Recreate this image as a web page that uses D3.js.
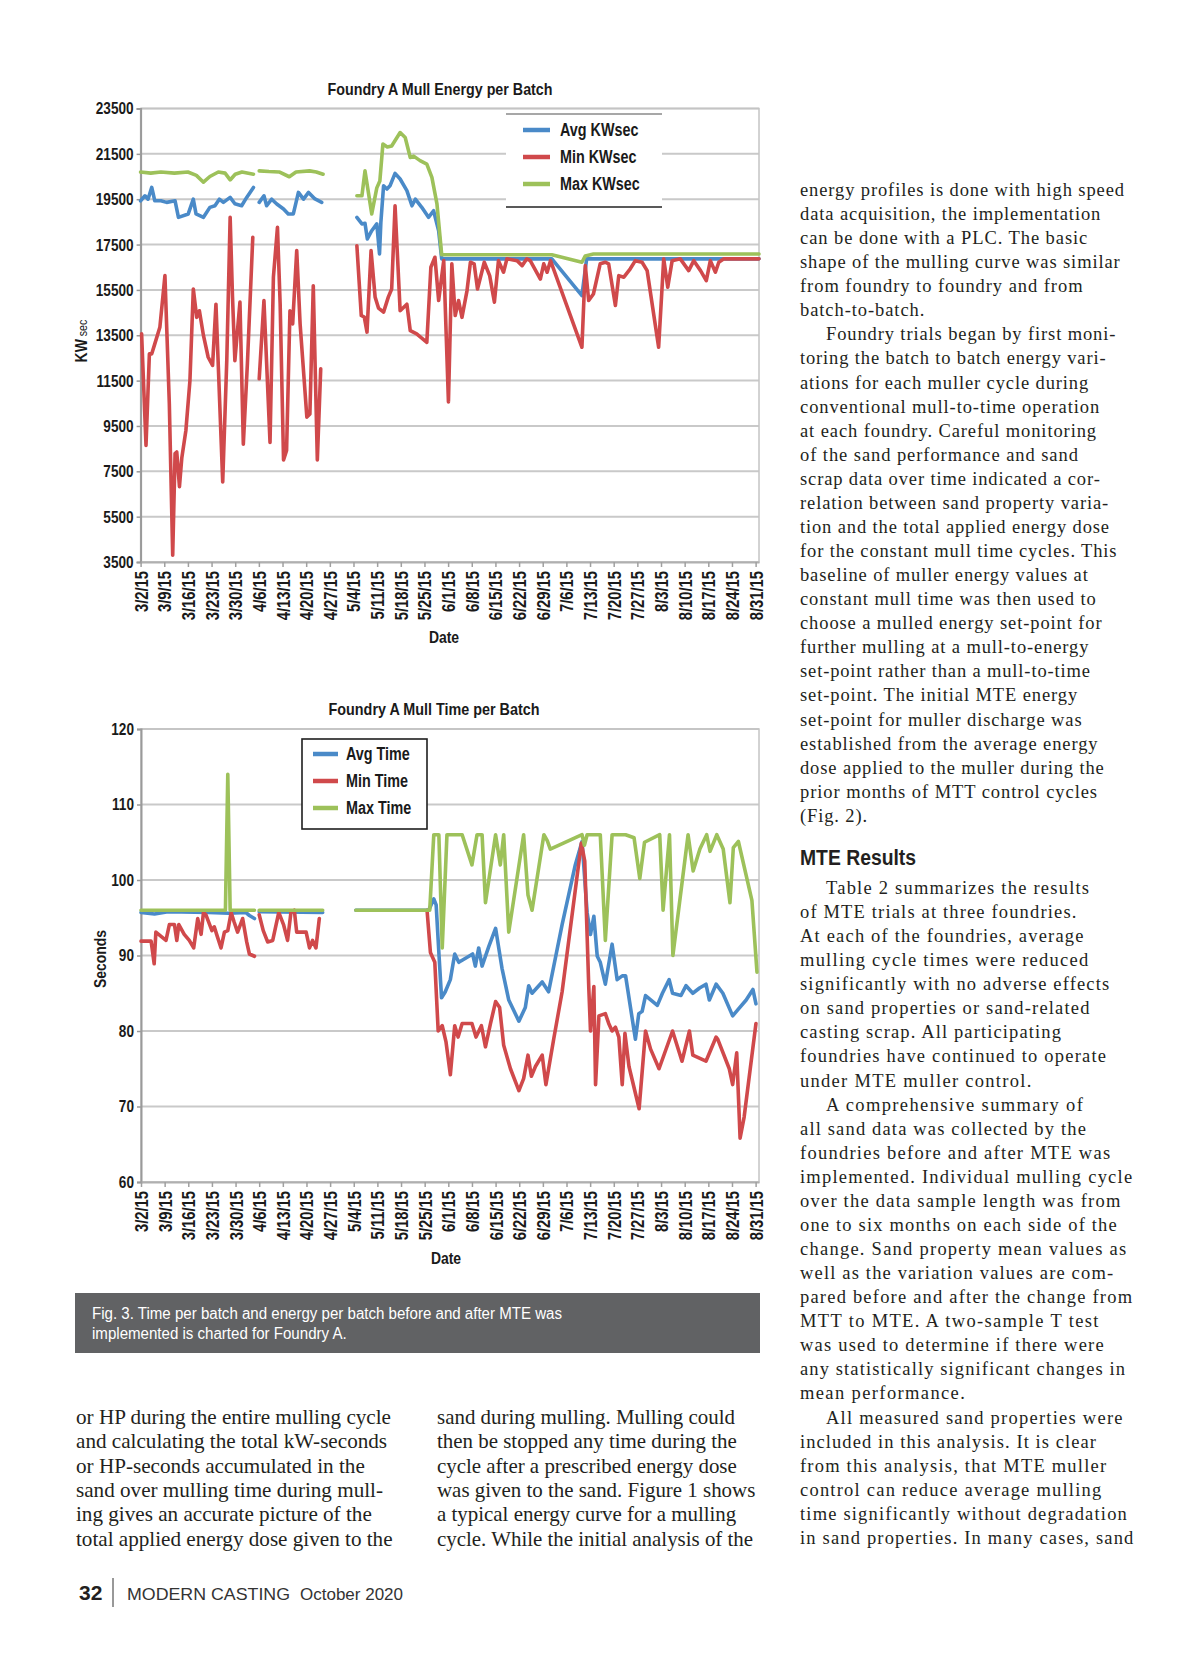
<!DOCTYPE html>
<html>
<head>
<meta charset="utf-8">
<script src="https://cdn.jsdelivr.net/npm/d3@7"></script>
<style>
  body { margin: 0; background: #fff; }
  svg { display: block; }
</style>
</head>
<body>
<div id="app"></div>
<script>
// ---- data ----
const dateLabels = ["3/2/15","3/9/15","3/16/15","3/23/15","3/30/15","4/6/15","4/13/15","4/20/15","4/27/15",
  "5/4/15","5/11/15","5/18/15","5/25/15","6/1/15","6/8/15","6/15/15","6/22/15","6/29/15","7/6/15",
  "7/13/15","7/20/15","7/27/15","8/3/15","8/10/15","8/17/15","8/24/15","8/31/15"];
const dateRange = ["3/2/15", "9/1/15"];
const energyTicks = [3500,5500,7500,9500,11500,13500,15500,17500,19500,21500,23500];
const timeTicks = [60,70,80,90,100,110,120];

// [day since 3/2/15, value] ; null = gap in the record
const energyAvg = [[0,19430],[1.3,19650],[2.2,19500],[3.3,20020],[4.2,19430],[6,19430],[7.7,19360],[10.2,19430],[11.2,18700],
  [14.1,18850],[15.6,19500],[16.4,18850],[18.6,18700],[20.5,19140],[22,19210],[23.3,19500],[24.5,19360],[26.5,19580],
  [27.9,19300],[29.9,19210],[31.4,19580],[33.4,20020],[34.2,null],
  [35.1,19360],[36.5,19650],[37.3,19210],[38.8,19500],[40.3,19290],[42.3,19070],[43.7,18850],[45.2,18850],[46.7,19800],
  [48.2,19500],[49.7,19800],[51.6,19510],[53.6,19360],[59,null],
  [64,18700],[65.5,18410],[66.4,18440],[67.1,17750],[68.4,18110],[69.9,18410],[70.7,17090],[71.1,18480],[71.9,20090],
  [72.9,19950],[73.8,20090],[75.3,20640],[76.8,20390],[78.8,19880],[80.3,19210],[81.3,19500],[83.2,19140],[85.2,18700],
  [86.7,18990],[88.2,18110],[89.1,16870],[121.7,16870],[130.6,15250],[132,16870],[183,16870]];
const energyMin = [[0.3,13560],[1.6,8640],[2.6,12680],[3.3,12680],[4.2,13120],[5.7,13850],[7.2,16130],[8.5,10480],[9.5,3800],
  [10.2,8280],[10.7,8350],[11.5,6820],[12.2,8100],[13.4,9300],[14.6,11500],[15.6,15540],[16.6,14290],[17.4,14580],
  [18.6,13490],[20,12530],[21.3,12170],[22.3,14870],[24.3,7030],[25.5,12380],[26.5,18700],[27.2,15180],[27.9,12380],
  [29.4,14960],[30.4,8700],[31.6,12240],[33.2,17820],[34.2,null],
  [35.1,11580],[36.5,15030],[38.3,8770],[39.3,16060],[40.5,18260],[41.3,14870],[42.3,8000],[43.2,8420],[44.2,14580],
  [45,14000],[46.2,17230],[47.2,14000],[49.2,9890],[50.1,10030],[51.1,15680],[52.3,8000],[53.3,12020],[59,null],
  [64,17450],[65.3,14370],[66.2,14300],[67,13640],[68.2,17230],[69.4,15180],[70.4,14700],[71.9,14520],[73.3,15180],
  [74.3,15540],[75.3,19210],[76.8,14580],[78.8,14870],[79.8,13700],[81.7,13560],[84.7,13190],[85.9,16500],[87.1,16940],
  [88.2,15030],[89.7,16790],[91.1,10560],[92.1,16650],[93.1,14370],[94.1,15030],[95.1,14290],[96.6,15470],[97.6,16720],
  [98.7,16650],[99.7,15540],[101.7,16720],[103.3,16130],[104.7,14960],[105.9,16790],[107.4,16280],[108.4,16870],
  [111.4,16790],[112.9,16570],[114.3,16870],[115.3,16790],[118.3,15980],[119.3,16650],[120.3,16280],[121.3,16790],
  [130.6,12970],[131.6,16570],[132.6,15030],[134,15320],[136,16650],[137.5,16720],[138.5,16650],[140.5,14810],
  [141.5,16130],[143,16060],[144.9,16430],[146.4,16790],[148.4,16720],[149.9,16350],[153.3,12970],[154.8,16870],
  [156,15620],[157.3,16790],[159.7,16870],[162.2,16350],[163.7,16790],[165.7,16350],[167.4,15910],[168.6,16790],
  [170.1,16280],[171.1,16720],[172.6,16870],[183,16870]];
const energyMax = [[0,20700],[3,20650],[6,20700],[10,20650],[14,20700],[16.5,20550],[18.6,20250],[20.5,20500],[23,20700],
  [25,20650],[26.5,20350],[28,20600],[30,20700],[33.4,20600],[34.2,null],
  [35.1,20750],[38,20720],[41,20700],[44,20490],[46,20700],[50,20750],[52,20700],[54,20600],[59,null],
  [64,19650],[65.5,19650],[66.4,20750],[67.3,19900],[68.4,18850],[69.9,20000],[70.8,20300],[71.7,21930],[73,21800],
  [74.3,21850],[76.8,22440],[78.3,22220],[79.8,21340],[80.8,21400],[82.7,21200],[84.7,21050],[86.2,20460],[87.7,19290],
  [89.1,17050],[121.7,17050],[130.6,16720],[131.6,17000],[134,17080],[183,17080]];

const timeAvg = [[0,95.7],[4,95.5],[8,95.8],[20,95.7],[26,95.6],[31,95.7],[32.1,95.3],[33.6,94.9],[34.3,null],
  [35,95.8],[53.8,95.7],[58,null],
  [63.6,96],[85.2,96],[86.7,97.5],[87.4,96.7],[88.2,90.4],[89,84.4],[90.1,85.2],[91.6,86.8],[92.9,90.2],[94.1,89.1],
  [97.1,89.9],[98.2,90.2],[99,88.6],[100,91],[101,88.6],[103,91.2],[105,93.6],[106.9,88.3],[108.9,84.1],[111.9,81.3],
  [113.8,83.1],[114.8,86],[115.8,85],[118.8,86.5],[120.7,85.2],[124.7,94.1],[128.6,102],[130.6,105.1],[132.1,95.7],
  [133.1,92.8],[134.1,95.2],[135.1,89.9],[136,89.1],[137.5,86.2],[139.5,91.5],[141,86.8],[142.5,87.3],[143.5,87.3],
  [146.4,78.9],[147.4,82.3],[148.4,82.6],[149.4,84.7],[152.9,83.4],[154.4,85],[156.4,86.8],[157.4,85],[159.9,84.7],
  [161.4,86],[163.4,85],[165.4,85.7],[167.3,86.2],[168.3,84.1],[170.3,86.2],[172.3,85],[175.2,82],[176.7,82.8],
  [179.2,84.1],[181.2,85.5],[182.1,83.6]];
const timeMin = [[0,91.9],[3,91.9],[3.9,88.9],[4.4,93.1],[7.4,92],[8.4,94.1],[9.9,94.1],[10.6,92],[11.2,94.1],[12.8,92.8],
  [14.3,92],[15.6,91],[16.8,94.9],[17.8,92.8],[18.5,95.7],[19.2,95.4],[21,93.3],[21.7,93.8],[22.4,92.8],[23.7,91],
  [24.7,93.1],[25.7,93.3],[26.7,95.7],[27.6,94.4],[28.6,93.1],[30.1,94.9],[31.3,91.8],[32.1,90.2],[33.6,89.9],[34.3,null],
  [35,95.4],[36.2,93.3],[37.5,91.8],[39,92],[40.8,95.7],[42.2,94.1],[43.4,92],[44.4,95.7],[45.4,96],[46.1,93.1],
  [47.4,93.1],[48.9,93.1],[49.9,91],[50.8,92],[51.8,91],[52.8,94.9],[58,null],
  [84.7,96],[85.7,90.4],[87,89.1],[88,80],[89.2,80.7],[90.3,78.6],[91.6,74.2],[92.9,80.7],[93.9,79.2],[95.1,81],
  [98,81],[99.2,79.2],[100.8,80.7],[102,77.9],[103.5,81],[105,83.9],[106.2,83.1],[107.4,78.1],[109.4,75],[111.9,72.1],
  [113.3,73.7],[114.6,76.8],[115.6,74],[116.8,75.3],[118.8,76.8],[119.9,72.9],[122.2,78.9],[124.7,85.2],[127.6,95.2],
  [130.4,104.9],[131.4,102.5],[132.6,85.7],[133.1,80],[134.1,85.9],[134.6,72.9],[135.6,82],[137.5,82.3],[138.5,81],
  [139.5,80],[140.5,80.5],[141.5,79.2],[142.5,72.9],[143.3,79.7],[144.5,75.3],[147.5,69.7],[149.4,80],[150.9,77.6],
  [153.4,75],[157.4,80],[160.2,76],[162.4,80],[163.4,76.8],[167.3,76],[170.3,79.2],[170.8,78.9],[174.2,75],
  [175.2,72.9],[176.4,77.1],[177.4,65.8],[178.6,68.6],[182.1,81]];
const timeMax = [[0,96],[25,96],[25.7,114],[26.4,96],[33.6,96],[34.3,null],[35,96],[53.8,96],[58,null],
  [63.6,96],[85.5,96],[86.7,106],[88.2,106],[89.2,91],[90.6,106],[95.1,106],[98,102],[99.5,106],[101,106],[102,97],
  [105,106],[106.4,102],[107.4,106],[108.9,93.1],[113.3,106],[114.6,98],[115.8,96],[119.3,106],[120.3,105.2],
  [121.2,104.1],[130.6,106],[131.3,104.6],[132.1,106],[136,106],[137.5,92],[139.5,106],[143.5,106],[146,105.6],
  [147.7,100.2],[149.1,105],[153.6,106],[154.6,96],[156.5,106],[157.5,90],[162,106],[163.5,101.2],[165.5,104.1],
  [167.5,106],[168.5,103.8],[170.5,106],[172.4,104.1],[174.4,97],[175.4,104.3],[176.9,105.1],[180.9,97.3],[182.4,87.8]];

const energyNames = ["Avg KWsec", "Min KWsec", "Max KWsec"];
const timeNames = ["Avg Time", "Min Time", "Max Time"];
const colors = ["#4a8ac8", "#d0494b", "#9dc15a"];

const captionLines = ["Fig. 3. Time per batch and energy per batch before and after MTE was",
  "implemented is charted for Foundry A."];
const col1Lines = ["or HP during the entire mulling cycle", "and calculating the total kW-seconds",
  "or HP-seconds accumulated in the", "sand over mulling time during mull-",
  "ing gives an accurate picture of the", "total applied energy dose given to the"];
const col2Lines = ["sand during mulling. Mulling could", "then be stopped any time during the",
  "cycle after a prescribed energy dose", "was given to the sand. Figure 1 shows",
  "a typical energy curve for a mulling", "cycle. While the initial analysis of the"];
const col3aLines = ["energy profiles is done with high speed", "data acquisition, the implementation",
  "can be done with a PLC. The basic", "shape of the mulling curve was similar",
  "from foundry to foundry and from", "batch-to-batch.",
  ">Foundry trials began by first moni-", "toring the batch to batch energy vari-",
  "ations for each muller cycle during", "conventional mull-to-time operation",
  "at each foundry. Careful monitoring", "of the sand performance and sand",
  "scrap data over time indicated a cor-", "relation between sand property varia-",
  "tion and the total applied energy dose", "for the constant mull time cycles. This",
  "baseline of muller energy values at", "constant mull time was then used to",
  "choose a mulled energy set-point for", "further mulling at a mull-to-energy",
  "set-point rather than a mull-to-time", "set-point. The initial MTE energy",
  "set-point for muller discharge was", "established from the average energy",
  "dose applied to the muller during the", "prior months of MTT control cycles", "(Fig. 2)."];
const col3bLines = [">Table 2 summarizes the results", "of MTE trials at three foundries.",
  "At each of the foundries, average", "mulling cycle times were reduced",
  "significantly with no adverse effects", "on sand properties or sand-related",
  "casting scrap. All participating", "foundries have continued to operate",
  "under MTE muller control.", ">A comprehensive summary of",
  "all sand data was collected by the", "foundries before and after MTE was",
  "implemented. Individual mulling cycle", "over the data sample length was from",
  "one to six months on each side of the", "change. Sand property mean values as",
  "well as the variation values are com-", "pared before and after the change from",
  "MTT to MTE. A two-sample T test", "was used to determine if there were",
  "any statistically significant changes in", "mean performance.",
  ">All measured sand properties were", "included in this analysis. It is clear",
  "from this analysis, that MTE muller", "control can reduce average mulling",
  "time significantly without degradation", "in sand properties. In many cases, sand"];

// ---- drawing ----
const W = 1200, H = 1657;
const SERIF = "'Liberation Serif', 'DejaVu Serif', serif";
const SANS = "'Liberation Sans', Arial, sans-serif";

const svg = d3.select("#app").append("svg").attr("width", W).attr("height", H);
svg.append("rect").attr("width", W).attr("height", H).attr("fill", "#fff");

// no narrow face installed: squeeze Liberation Sans Bold like Arial Narrow
const narrow = (sel, size, factor = 0.82) => {
  sel.style("font-family", SANS).style("font-weight", "bold")
    .style("font-size", size + "px").attr("fill", "#1a1a1a");
  sel.each(function () {
    const len = this.getComputedTextLength();
    d3.select(this).attr("textLength", len * factor).attr("lengthAdjust", "spacingAndGlyphs");
  });
  return sel;
};

const parseDate = d3.timeParse("%m/%d/%y");
const start = parseDate(dateLabels[0]);
const toDate = (day) => new Date(start.getTime() + day * 864e5);

const drawChart = (cfg) => {
  const g = svg.append("g");
  const x = d3.scaleTime().domain(dateRange.map(parseDate)).range([cfg.left, cfg.right]);
  const y = d3.scaleLinear().domain(d3.extent(cfg.ticks)).range([cfg.bottom, cfg.top]);

  //grid
  g.append("g")
    .selectAll("line")
    .data(cfg.ticks)
    .join("line")
    .attr("x1", cfg.left).attr("x2", cfg.right)
    .attr("y1", (d) => y(d)).attr("y2", (d) => y(d))
    .attr("stroke", "#c9c9c9").attr("stroke-width", 2);
  g.append("rect")
    .attr("x", cfg.left).attr("y", cfg.top)
    .attr("width", cfg.right - cfg.left).attr("height", cfg.bottom - cfg.top)
    .attr("fill", "none").attr("stroke", "#c4c4c4").attr("stroke-width", 1.5);

  //axes
  const yAxis = g.append("g")
    .attr("transform", `translate(${cfg.left},0)`)
    .call(d3.axisLeft(y).tickValues(cfg.ticks).tickFormat(d3.format("d")).tickSize(4).tickPadding(3));
  yAxis.select(".domain").attr("stroke", "#9a9a9a").attr("stroke-width", 2);
  yAxis.selectAll(".tick line").attr("stroke", "#9a9a9a").attr("stroke-width", 1.5);
  narrow(yAxis.selectAll("text"), 17, 0.8);

  const xAxis = g.append("g")
    .attr("transform", `translate(0,${cfg.bottom})`)
    .call(d3.axisBottom(x).tickValues(dateLabels.map(parseDate))
      .tickFormat((d, i) => dateLabels[i]).tickSize(5).tickSizeOuter(0));
  xAxis.select(".domain").attr("stroke", "#b0b0b0").attr("stroke-width", 2);
  xAxis.selectAll(".tick line").attr("stroke", "#a0a0a0").attr("stroke-width", 1.5);
  const xt = xAxis.selectAll("text")
    .attr("transform", "rotate(-90)")
    .attr("y", 0).attr("x", -9).attr("dy", "0.36em")
    .style("text-anchor", "end");
  narrow(xt, 18);

  //series lines
  const line = d3.line()
    .defined((d) => d[1] !== null)
    .x((d) => x(toDate(d[0])))
    .y((d) => y(d[1]));
  g.append("g")
    .selectAll("path")
    .data(cfg.series)
    .join("path")
    .attr("d", (d) => line(d))
    .attr("fill", "none")
    .attr("stroke", (d, i) => colors[i])
    .attr("stroke-width", 3.6)
    .attr("stroke-linejoin", "round")
    .attr("stroke-linecap", "round");

  //title and axis names
  const title = g.append("text")
    .attr("x", cfg.titleX).attr("y", cfg.titleY)
    .attr("text-anchor", "middle")
    .text(cfg.title);
  narrow(title, 17);
  title.attr("textLength", cfg.titleW);
  narrow(g.append("text")
    .attr("x", cfg.dateX).attr("y", cfg.dateY)
    .attr("text-anchor", "middle")
    .text("Date"), 17);
  const yl = g.append("text")
    .attr("transform", `translate(${cfg.yLabelX},${cfg.yLabelY}) rotate(-90)`)
    .attr("text-anchor", "middle");
  cfg.yLabel.forEach((part) => {
    yl.append("tspan")
      .style("font-weight", part.bold ? "bold" : "normal")
      .style("font-size", part.size + "px")
      .text(part.text);
  });
  yl.style("font-family", SANS).attr("fill", "#1a1a1a");
  yl.attr("textLength", yl.node().getComputedTextLength() * 0.82).attr("lengthAdjust", "spacingAndGlyphs");

  //legend
  const L = cfg.legend;
  const lg = g.append("g");
  lg.append("rect")
    .attr("x", L.x).attr("y", L.y).attr("width", L.w).attr("height", L.h)
    .attr("fill", "#fff").attr("stroke", L.box ? "#1f1f1f" : "none").attr("stroke-width", 1.6);
  if (!L.box) {
    [L.y, L.y + L.h].forEach((yy) => {
      lg.append("line").attr("x1", L.x).attr("x2", L.x + L.w)
        .attr("y1", yy).attr("y2", yy).attr("stroke", yy === L.y ? "#8a8a8a" : "#222").attr("stroke-width", 1.3);
    });
  }
  const rows = lg.selectAll("g.row")
    .data(cfg.names)
    .join("g")
    .attr("class", "row")
    .attr("transform", (d, i) => `translate(0,${L.rowY + i * L.rowGap})`);
  rows.append("line")
    .attr("x1", L.swX).attr("x2", L.swX + L.swW)
    .attr("stroke", (d, i) => colors[i]).attr("stroke-width", 4.5);
  narrow(rows.append("text")
    .attr("x", L.textX).attr("dy", "0.36em")
    .text((d) => d), 17.5);
};

drawChart({
  left: 140.6, right: 759, top: 108.5, bottom: 562,
  ticks: energyTicks,
  series: [energyAvg, energyMin, energyMax],
  names: energyNames,
  title: "Foundry A Mull Energy per Batch", titleX: 440, titleY: 95, titleW: 225,
  dateX: 444, dateY: 643,
  yLabel: [{ text: "KW", bold: true, size: 17 }, { text: " sec", bold: false, size: 13 }],
  yLabelX: 87, yLabelY: 341,
  legend: { x: 506, y: 114, w: 156, h: 93, box: false, rowY: 130, rowGap: 27, swX: 523, swW: 27, textX: 560 }
});

drawChart({
  left: 141, right: 759, top: 729, bottom: 1182,
  ticks: timeTicks,
  series: [timeAvg, timeMin, timeMax],
  names: timeNames,
  title: "Foundry A Mull Time per Batch", titleX: 434, titleY: 715, titleW: 211,
  dateX: 446, dateY: 1264,
  yLabel: [{ text: "Seconds", bold: true, size: 17 }],
  yLabelX: 106, yLabelY: 959,
  legend: { x: 302, y: 739, w: 125, h: 90, box: true, rowY: 754, rowGap: 27, swX: 313, swW: 25, textX: 346 }
});

//caption
svg.append("rect").attr("x", 75).attr("y", 1293).attr("width", 685).attr("height", 60).attr("fill", "#616264");
const fitLines = (lines, opt) => {
  const g = svg.append("g");
  const t = g.selectAll("text")
    .data(lines)
    .join("text")
    .attr("x", (d) => opt.x + (d.startsWith(">") ? opt.indent : 0))
    .attr("y", (d, i) => opt.y + i * opt.lh)
    .style("font-family", opt.font)
    .style("font-size", opt.size + "px")
    .attr("fill", opt.color)
    .text((d) => d.replace(/^>/, ""));
  const k = opt.k || opt.width / t.nodes()[0].getComputedTextLength();
  t.each(function () {
    const len = this.getComputedTextLength();
    d3.select(this).attr("textLength", len * k).attr("lengthAdjust", opt.adjust);
  });
  return k;
};
fitLines(captionLines, { x: 92, y: 1319, lh: 20, font: SANS, size: 16, color: "#fff", width: 470, indent: 0, adjust: "spacingAndGlyphs" });
fitLines(col1Lines, { x: 76, y: 1424, lh: 24.3, font: SERIF, size: 21, color: "#231f20", width: 315, indent: 0, adjust: "spacingAndGlyphs" });
fitLines(col2Lines, { x: 437, y: 1424, lh: 24.3, font: SERIF, size: 21, color: "#231f20", width: 298, indent: 0, adjust: "spacingAndGlyphs" });
const k3 = fitLines(col3aLines, { x: 800, y: 196, lh: 24.07, font: SERIF, size: 18.5, color: "#231f20", width: 324, indent: 26, adjust: "spacing" });
fitLines(col3bLines, { x: 800, y: 894, lh: 24.07, font: SERIF, size: 18.5, color: "#231f20", k: k3 * 1.035, indent: 26, adjust: "spacing" });

svg.append("text")
  .attr("x", 800).attr("y", 865)
  .style("font-family", SANS).style("font-weight", "bold").style("font-size", "22px")
  .attr("fill", "#231f20")
  .attr("textLength", 116).attr("lengthAdjust", "spacingAndGlyphs")
  .text("MTE Results");

//footer
svg.append("text").attr("x", 79).attr("y", 1600)
  .style("font-family", SANS).style("font-weight", "bold").style("font-size", "21px")
  .attr("fill", "#231f20").text("32");
svg.append("line").attr("x1", 113).attr("x2", 113).attr("y1", 1578).attr("y2", 1607)
  .attr("stroke", "#333").attr("stroke-width", 1);
svg.append("text").attr("x", 127).attr("y", 1600)
  .style("font-family", SANS).style("font-size", "17px")
  .attr("fill", "#333").attr("textLength", 163).attr("lengthAdjust", "spacingAndGlyphs")
  .text("MODERN CASTING");
svg.append("text").attr("x", 300).attr("y", 1600)
  .style("font-family", SANS).style("font-size", "17px")
  .attr("fill", "#333").text("October 2020");
</script>
</body>
</html>
